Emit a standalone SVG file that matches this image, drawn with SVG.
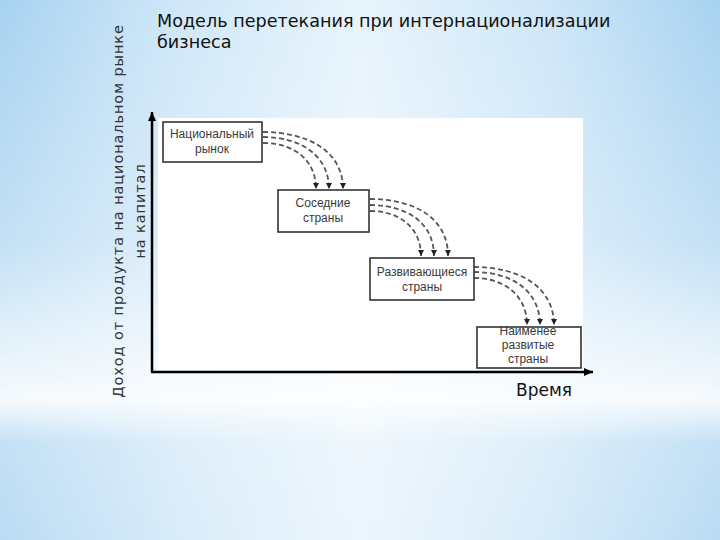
<svg xmlns="http://www.w3.org/2000/svg" width="720" height="540" viewBox="0 0 720 540">
  <defs>
    <linearGradient id="bgH" x1="0" y1="0" x2="1" y2="0">
      <stop offset="0" stop-color="#a3d0f0"/>
      <stop offset="0.25" stop-color="#cde6f8"/>
      <stop offset="0.5" stop-color="#e6f3fc"/>
      <stop offset="0.75" stop-color="#cde6f8"/>
      <stop offset="1" stop-color="#a3d0f0"/>
    </linearGradient>
    <linearGradient id="bgV" x1="0" y1="0" x2="0" y2="1">
      <stop offset="0" stop-color="#ffffff" stop-opacity="0.05"/>
      <stop offset="0.45" stop-color="#ffffff" stop-opacity="0.35"/>
      <stop offset="0.74" stop-color="#ffffff" stop-opacity="0.9"/>
      <stop offset="0.82" stop-color="#ffffff" stop-opacity="0.35"/>
      <stop offset="1" stop-color="#ffffff" stop-opacity="0.25"/>
    </linearGradient>
    <marker id="axisHead" markerWidth="10" markerHeight="10" refX="9" refY="5" orient="auto" markerUnits="userSpaceOnUse">
      <path d="M0,1 L9,5 L0,9 Z" fill="#000"/>
    </marker>
    <marker id="dashHead" markerWidth="8" markerHeight="8" refX="6" refY="3.5" orient="auto" markerUnits="userSpaceOnUse">
      <path d="M0,0.5 L6,3.5 L0,6.5 Z" fill="#222"/>
    </marker>
  </defs>
  <style>
    .box { fill: #ffffff; stroke: #333333; stroke-width: 1.6; }
    .bt { font-family: "Liberation Sans", Arial, sans-serif; font-size: 12px; fill: #3a3a3a; text-anchor: middle; }
    .flow { fill: none; stroke: #555555; stroke-width: 1.8; stroke-dasharray: 5 3; marker-end: url(#dashHead); }
    .axis { fill: none; stroke: #000; stroke-width: 2.5; marker-end: url(#axisHead); }
  </style>

  <rect x="0" y="0" width="720" height="540" fill="url(#bgH)"/>
  <rect x="0" y="0" width="720" height="540" fill="url(#bgV)"/>

  <g id="title">
    <text x="157" y="27" font-family="DejaVu Sans, sans-serif" font-size="17.6" fill="#111">Модель перетекания при интернационализации</text>
    <text x="157" y="48" font-family="DejaVu Sans, sans-serif" font-size="17.6" fill="#111">бизнеса</text>
  </g>

  <g id="y-label" font-family="DejaVu Sans, sans-serif" font-size="14.5" fill="#333" text-anchor="middle">
    <text transform="translate(123,211) rotate(-90)" letter-spacing="0.9">Доход от продукта на национальном рынке</text>
    <text transform="translate(145,211) rotate(-90)" letter-spacing="0.9">на капитал</text>
  </g>

  <rect id="panel" x="158" y="118" width="425" height="253" fill="#ffffff"/>

  <g id="connectors">
    <path class="flow" d="M263,132 C306,132 343,150 343,189"/>
    <path class="flow" d="M263,137 C300,137 329,155 329,189"/>
    <path class="flow" d="M263,143 C294,143 316,160 316,189"/>

    <path class="flow" d="M370,199 C413,199 448,217 448,256"/>
    <path class="flow" d="M370,205 C407,205 434,223 434,256"/>
    <path class="flow" d="M370,211 C400,211 421,228 421,256"/>

    <path class="flow" d="M474,267 C518,267 554,286 554,325"/>
    <path class="flow" d="M474,272 C512,272 540,291 540,325"/>
    <path class="flow" d="M474,278 C505,278 527,296 527,325"/>
  </g>

  <g id="node-national">
    <rect class="box" x="163" y="122" width="99" height="40"/>
    <text class="bt" x="212" y="138">Национальный</text>
    <text class="bt" x="212" y="153">рынок</text>
  </g>
  <g id="node-neighbors">
    <rect class="box" x="278" y="190" width="91" height="42"/>
    <text class="bt" x="323" y="207">Соседние</text>
    <text class="bt" x="323" y="222">страны</text>
  </g>
  <g id="node-developing">
    <rect class="box" x="370" y="258" width="104" height="42"/>
    <text class="bt" x="422" y="276">Развивающиеся</text>
    <text class="bt" x="422" y="291">страны</text>
  </g>
  <g id="node-least">
    <rect class="box" x="477" y="327" width="104" height="41"/>
    <text class="bt" x="528" y="335">Наименее</text>
    <text class="bt" x="528" y="349">развитые</text>
    <text class="bt" x="528" y="363">страны</text>
  </g>

  <g id="axes">
    <path class="axis" d="M152,372 L152,112"/>
    <path class="axis" d="M151,372 L593,372"/>
  </g>

  <text id="x-label" x="516" y="396" font-family="DejaVu Sans, sans-serif" font-size="17" fill="#111">Время</text>
</svg>
